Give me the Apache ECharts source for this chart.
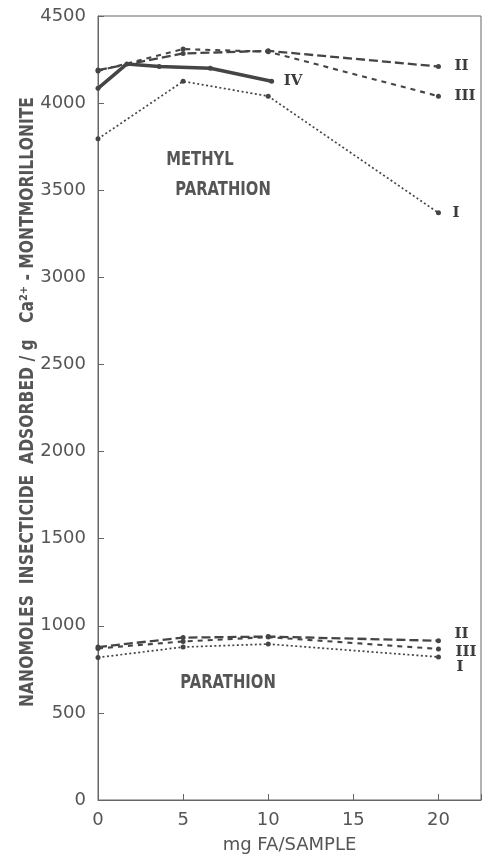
<!DOCTYPE html>
<html>
<head>
<meta charset="utf-8">
<script src="https://cdn.jsdelivr.net/npm/echarts@6/dist/echarts.min.js"></script>
<style>
html,body{margin:0;padding:0;background:#fff;}
#chart{width:492px;height:859px;}
</style>
</head>
<body>
<div id="chart"></div>
<script>
// ---- data ----
var xTicks = [0, 5, 10, 15, 20];
var yTicks = [0, 500, 1000, 1500, 2000, 2500, 3000, 3500, 4000, 4500];

// Methyl parathion
var mpI_x   = [0, 5, 10, 20];
var mpI_y   = [3795, 4125, 4040, 3370];
var mpII_x  = [0, 5, 10, 20];
var mpII_y  = [4190, 4285, 4300, 4210];
var mpIII_x = [0, 5, 10, 20];
var mpIII_y = [4185, 4310, 4295, 4040];
var mpIV_x  = [0, 1.7, 3.6, 6.6, 10.2];
var mpIV_y  = [4085, 4225, 4210, 4200, 4125];

// Parathion
var pI_x   = [0, 5, 10, 20];
var pI_y   = [818, 878, 895, 821];
var pII_x  = [0, 5, 10, 20];
var pII_y  = [878, 932, 938, 914];
var pIII_x = [0, 5, 10, 20];
var pIII_y = [870, 910, 935, 867];

var labelText = {
  yName: 'NANOMOLES  INSECTICIDE  ADSORBED / g   Ca\u00B2\u207A - MONTMORILLONITE',
  xName: 'mg FA/SAMPLE',
  methyl1: 'METHYL',
  methyl2: 'PARATHION',
  parathion: 'PARATHION'
};

function pairs(xs, ys) { return xs.map(function (x, i) { return [x, ys[i]]; }); }

var ink = '#454545';
var textCol = '#555555';

function mkSeries(name, xs, ys, lineType, width, lbl, offset) {
  return {
    name: name,
    type: 'line',
    data: pairs(xs, ys),
    symbol: 'circle',
    symbolSize: 5,
    itemStyle: { color: ink },
    lineStyle: { color: ink, width: width, type: lineType },
    endLabel: {
      show: true,
      formatter: lbl,
      offset: offset,
      color: '#3c3c3c',
      fontFamily: '"DejaVu Serif"',
      fontWeight: 'bold',
      fontSize: 15
    },
    animation: false,
    z: 3
  };
}

var DOT = [2, 2.5], LONGD = [9, 4], SHORTD = [5, 5];

var series = [
  mkSeries('MP I', mpI_x, mpI_y, DOT, 1.7, 'I', [6, 0]),
  mkSeries('MP II', mpII_x, mpII_y, LONGD, 2.3, 'II', [8, 0]),
  mkSeries('MP III', mpIII_x, mpIII_y, SHORTD, 2.1, 'III', [8, 0]),
  mkSeries('MP IV', mpIV_x, mpIV_y, 'solid', 3.5, 'IV', [4, 0]),
  mkSeries('P I', pI_x, pI_y, DOT, 1.7, 'I', [10, 10]),
  mkSeries('P II', pII_x, pII_y, LONGD, 2.3, 'II', [8, -7]),
  mkSeries('P III', pIII_x, pIII_y, SHORTD, 2.1, 'III', [9, 3])
];

var chart = echarts.init(document.getElementById('chart'), null, { renderer: 'canvas' });

// condensed text helper
var mctx = document.createElement('canvas').getContext('2d');
function textWidth(t, font) { mctx.font = font; return mctx.measureText(t).width; }

var yNameFont = 'bold 19px "DejaVu Sans"';
var yNameScale = 610 / textWidth(labelText.yName, yNameFont);
var annFont = 'bold 20px "DejaVu Sans"';
var annScale = 0.74;

var option = {
  backgroundColor: '#fff',
  animation: false,
  grid: {
    left: 98, right: 11, top: 16, bottom: 57,
    show: true, borderColor: '#666', borderWidth: 1
  },
  xAxis: {
    type: 'value',
    min: 0, max: 22.5, interval: 5,
    name: labelText.xName,
    nameLocation: 'middle',
    nameGap: 36,
    nameTextStyle: { fontFamily: '"DejaVu Sans"', fontSize: 18, color: textCol },
    axisLine: { lineStyle: { color: '#666', width: 1 } },
    axisTick: { inside: true, length: 6, lineStyle: { color: '#666' } },
    axisLabel: {
      fontFamily: '"DejaVu Sans"', fontSize: 18, color: textCol, margin: 11,
      formatter: function (v) { return xTicks.indexOf(v) >= 0 ? String(v) : ''; }
    },
    splitLine: { show: false }
  },
  yAxis: {
    type: 'value',
    min: 0, max: 4500, interval: 500,
    axisLine: { show: true, lineStyle: { color: '#666', width: 1 } },
    axisTick: { show: true, inside: true, length: 6, lineStyle: { color: '#666' } },
    axisLabel: {
      fontFamily: '"DejaVu Sans"', fontSize: 18, color: textCol, margin: 12,
      formatter: function (v) { return yTicks.indexOf(v) >= 0 ? String(v) : ''; }
    },
    splitLine: { show: false }
  },
  graphic: [
    {
      type: 'text', x: 28, y: 402, rotation: Math.PI / 2, scaleX: yNameScale, scaleY: 1,
      style: { text: labelText.yName, font: yNameFont, fill: textCol, align: 'center', verticalAlign: 'middle' }
    },
    {
      type: 'text', x: 200, y: 160, scaleX: annScale,
      style: { text: labelText.methyl1, font: annFont, fill: textCol, align: 'center', verticalAlign: 'middle' }
    },
    {
      type: 'text', x: 223, y: 190, scaleX: annScale,
      style: { text: labelText.methyl2, font: annFont, fill: textCol, align: 'center', verticalAlign: 'middle' }
    },
    {
      type: 'text', x: 228, y: 683, scaleX: annScale,
      style: { text: labelText.parathion, font: annFont, fill: textCol, align: 'center', verticalAlign: 'middle' }
    }
  ],
  series: series
};

chart.setOption(option);
</script>
</body>
</html>
